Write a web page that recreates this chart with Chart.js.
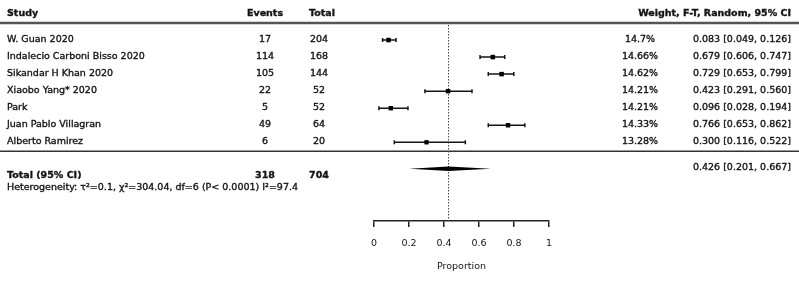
<!DOCTYPE html>
<html>
<head>
<meta charset="utf-8">
<script src="https://cdn.jsdelivr.net/npm/chart.js@4/dist/chart.umd.min.js"></script>
<style>
  html, body { margin: 0; padding: 0; background: #fff; }
  canvas { display: block; }
</style>
</head>
<body>
<canvas id="forest" width="799" height="281"></canvas>
<script>
// data
const studies = ['W. Guan 2020', 'Indalecio Carboni Bisso 2020', 'Sikandar H Khan 2020',
  'Xiaobo Yang* 2020', 'Park', 'Juan Pablo Villagran', 'Alberto Ramirez'];
const events = [17, 114, 105, 22, 5, 49, 6];
const totals = [204, 168, 144, 52, 52, 64, 20];
const weights = [14.7, 14.66, 14.62, 14.21, 14.21, 14.33, 13.28];
const estimates = [0.083, 0.679, 0.729, 0.423, 0.096, 0.766, 0.300];
const lower = [0.049, 0.606, 0.653, 0.291, 0.028, 0.653, 0.116];
const upper = [0.126, 0.747, 0.799, 0.560, 0.194, 0.862, 0.522];
const pooled = [0.426, 0.201, 0.667];
const totalEvents = 318;
const totalN = 704;
const heterogeneity = 'Heterogeneity: \u03c4\u00b2=0.1, \u03c7\u00b2=304.04, df=6 (P< 0.0001) I\u00b2=97.4';
const xTicks = [0, 0.2, 0.4, 0.6, 0.8, 1];

const FONT = '"DejaVu Sans", sans-serif';
const INK = '#141414';
const TOTAL_ROW = 7.55;

const fmt = v => v.toFixed(3);

// texto un poco mas grueso, como en la imagen
function text(ctx, s, x, y) {
  ctx.fillText(s, x, y);
  ctx.strokeText(s, x, y);
}

// tabla + barras de error + diamante
const forestPlugin = {
  id: 'forest',
  beforeDatasetsDraw(chart) {
    const ctx = chart.ctx;
    const xs = chart.scales.x, ys = chart.scales.y;
    const area = chart.chartArea;
    ctx.save();

    // lineas horizontales
    ctx.strokeStyle = '#555';
    ctx.lineWidth = 2.5;
    ctx.beginPath(); ctx.moveTo(0, 23); ctx.lineTo(799, 23); ctx.stroke();
    ctx.lineWidth = 1.5;
    ctx.strokeStyle = '#333';
    const sep = ys.getPixelForValue(6.52);
    ctx.beginPath(); ctx.moveTo(0, sep); ctx.lineTo(799, sep); ctx.stroke();

    // linea punteada del efecto combinado
    const px = xs.getPixelForValue(pooled[0]);
    ctx.strokeStyle = '#444';
    ctx.lineWidth = 1;
    ctx.setLineDash([1.5, 1.5]);
    ctx.beginPath(); ctx.moveTo(px, area.top + 2); ctx.lineTo(px, area.bottom); ctx.stroke();
    ctx.setLineDash([]);

    // barras de error
    ctx.strokeStyle = INK;
    ctx.lineWidth = 1.5;
    estimates.forEach((e, i) => {
      const y = ys.getPixelForValue(i);
      const a = xs.getPixelForValue(lower[i]);
      const b = xs.getPixelForValue(upper[i]);
      ctx.beginPath();
      ctx.moveTo(a, y); ctx.lineTo(b, y);
      ctx.moveTo(a, y - 2); ctx.lineTo(a, y + 2);
      ctx.moveTo(b, y - 2); ctx.lineTo(b, y + 2);
      ctx.stroke();
    });

    // diamante
    const dy = ys.getPixelForValue(TOTAL_ROW);
    ctx.fillStyle = '#000';
    ctx.beginPath();
    ctx.moveTo(xs.getPixelForValue(pooled[1]), dy);
    ctx.lineTo(px, dy - 2.2);
    ctx.lineTo(xs.getPixelForValue(pooled[2]), dy);
    ctx.lineTo(px, dy + 2.2);
    ctx.closePath();
    ctx.fill();

    // textos
    ctx.fillStyle = INK;
    ctx.strokeStyle = INK;
    ctx.lineWidth = 0.35;
    ctx.textBaseline = 'middle';
    ctx.font = 'bold 9.5px ' + FONT;
    ctx.textAlign = 'left';
    text(ctx, 'Study', 7, 14);
    ctx.textAlign = 'center';
    text(ctx, 'Events', 265, 14);
    text(ctx, 'Total', 322, 14);
    ctx.textAlign = 'right';
    text(ctx, 'Weight, F-T, Random, 95% CI', 791, 14);

    ctx.font = '9.5px ' + FONT;
    studies.forEach((s, i) => {
      const y = ys.getPixelForValue(i) - 0.5;
      ctx.textAlign = 'left';
      text(ctx, s, 7, y);
      ctx.textAlign = 'center';
      text(ctx, String(events[i]), 265, y);
      text(ctx, String(totals[i]), 319, y);
      text(ctx, weights[i] + '%', 640, y);
      ctx.textAlign = 'right';
      text(ctx, fmt(estimates[i]) + ' [' + fmt(lower[i]) + ', ' + fmt(upper[i]) + ']', 791, y);
    });

    ctx.textAlign = 'right';
    text(ctx, fmt(pooled[0]) + ' [' + fmt(pooled[1]) + ', ' + fmt(pooled[2]) + ']', 791, dy - 1.5);

    ctx.font = 'bold 9.5px ' + FONT;
    ctx.textAlign = 'left';
    text(ctx, 'Total (95% CI)', 7, dy + 6.5);
    ctx.textAlign = 'center';
    text(ctx, String(totalEvents), 265, dy + 6.5);
    text(ctx, String(totalN), 319, dy + 6.5);

    ctx.font = '9.5px ' + FONT;
    ctx.textAlign = 'left';
    text(ctx, heterogeneity, 7, dy + 18.5);

    ctx.restore();
  }
};

new Chart(document.getElementById('forest'), {
  type: 'scatter',
  data: {
    datasets: [{
      data: estimates.map((v, i) => ({ x: v, y: i })),
      pointStyle: 'rect',
      pointRadius: weights.map(w => 3.2 * Math.sqrt(w / 14.7)),
      backgroundColor: '#000',
      borderWidth: 0
    }]
  },
  options: {
    responsive: false,
    animation: false,
    layout: { padding: { left: 374, right: 250, top: 23, bottom: 0 } },
    plugins: { legend: { display: false }, tooltip: { enabled: false } },
    scales: {
      x: {
        type: 'linear',
        min: 0,
        max: 1,
        afterFit: s => { s.height = 60; },
        afterBuildTicks: s => { s.ticks = xTicks.map(v => ({ value: v })); },
        grid: { drawOnChartArea: false, drawTicks: true, tickLength: 6, color: '#222', lineWidth: 1.5 },
        border: { display: true, color: '#222', width: 1.5 },
        ticks: {
          color: INK,
          font: { family: FONT, size: 9.5 },
          padding: 11,
          callback: v => String(v)
        },
        title: {
          display: true,
          text: 'Proportion',
          color: INK,
          font: { family: FONT, size: 9.5 },
          padding: { top: 0, bottom: 9 }
        }
      },
      y: {
        type: 'linear',
        min: -1,
        max: 10.62,
        reverse: true,
        display: false
      }
    }
  },
  plugins: [forestPlugin]
});
</script>
</body>
</html>
